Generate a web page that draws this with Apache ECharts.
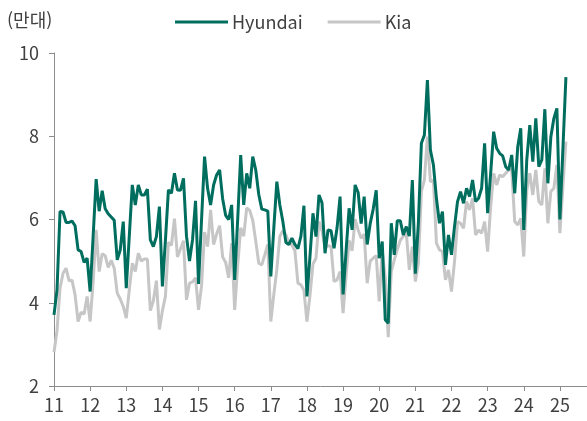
<!DOCTYPE html>
<html lang="ko">
<head>
<meta charset="utf-8">
<title>Hyundai / Kia</title>
<script src="https://cdn.jsdelivr.net/npm/echarts@6/dist/echarts.min.js"></script>
<style>
html,body{margin:0;padding:0;background:#fff;}
#main{width:587px;height:421px;}
</style>
</head>
<body>
<div id="main"></div>
<script>
// 연도 라벨 (x축), 월
var years = ['11','12','13','14','15','16','17','18','19','20','21','22','23','24','25'];
var months = ['01','02','03','04','05','06','07','08','09','10','11','12'];
var monthCount = 178; // 11.01 ~ 25.10 (축 길이)

// 월별 판매 (만대), 11.01 ~ 25.03
var hyundai = [
  3.71,4.31,6.19,6.18,5.93,5.93,5.96,5.85,5.27,5.23,4.97,5.07,
  4.27,5.6,6.97,6.2,6.69,6.26,6.14,6.06,5.98,5.03,5.27,5.95,
  4.35,5.6,6.83,6.35,6.83,6.59,6.59,6.73,5.51,5.35,5.59,6.31,
  4.39,5.5,6.71,6.63,7.11,6.71,6.7,6.99,5.6,5.0,5.51,6.45,
  4.45,6.0,7.51,6.75,6.35,6.83,7.07,7.19,6.5,6.1,6.0,6.35,
  4.55,6.0,7.55,6.35,7.11,6.75,7.51,7.19,6.6,6.25,6.23,6.2,
  4.63,5.8,6.91,6.35,5.95,5.45,5.4,5.55,5.4,5.3,5.6,6.33,
  4.15,5.11,6.15,5.59,6.59,6.4,5.19,5.75,5.73,5.31,5.8,6.55,
  4.2,5.25,6.27,5.75,6.83,6.65,5.9,6.55,5.4,5.9,6.25,6.7,
  5.07,5.47,3.59,3.51,5.91,5.15,5.97,5.97,5.63,5.83,5.6,6.95,
  4.7,5.91,7.83,8.03,9.35,7.67,7.31,6.51,5.91,6.19,4.91,5.63,
  5.15,5.83,6.43,6.67,6.39,6.75,6.55,6.95,6.43,6.51,6.75,7.83,
  6.15,7.1,8.11,7.71,7.59,7.53,7.27,7.19,7.55,6.63,7.75,8.19,
  5.75,7.43,8.27,7.39,8.43,7.27,7.43,8.65,6.87,7.99,8.43,8.67,
  6.0,7.7,9.42
];
var kia = [
  2.81,3.33,4.35,4.71,4.83,4.53,4.54,4.19,3.55,3.77,3.73,4.15,
  3.55,4.5,5.75,4.75,5.18,5.13,4.85,5.02,4.83,4.23,4.09,3.91,
  3.63,4.31,4.95,4.75,5.19,5.0,5.05,5.05,3.81,4.05,4.53,3.36,
  3.81,4.15,5.45,5.38,6.02,5.1,5.29,5.49,4.07,4.47,4.5,4.6,
  3.83,4.41,5.7,5.35,6.23,5.4,5.65,5.85,5.1,4.97,4.6,5.43,
  3.83,4.9,5.8,5.6,6.28,6.22,5.98,5.48,4.95,4.91,5.15,5.4,
  3.55,4.2,4.8,5.6,5.73,5.63,5.45,5.39,5.25,4.47,4.43,4.3,
  3.55,4.17,4.93,5.07,5.95,5.73,5.33,5.37,5.35,4.51,4.55,4.75,
  3.75,4.65,5.5,5.25,6.01,5.75,5.55,5.65,4.47,5.0,5.07,5.13,
  4.03,5.25,4.6,3.17,4.75,5.03,5.28,5.5,5.6,5.67,4.79,5.35,
  4.51,4.95,6.67,6.95,7.99,6.91,6.95,5.43,5.27,5.23,4.55,4.79,
  4.27,4.99,5.95,5.91,5.79,6.43,6.23,6.51,5.63,5.75,5.67,5.95,
  5.23,6.3,7.11,6.83,7.07,7.03,7.11,7.19,7.19,5.95,5.87,6.03,
  5.11,6.71,7.11,6.59,7.19,6.43,6.35,7.23,5.91,6.67,6.75,7.31,
  5.67,6.8,7.87
];

var categories = [];
years.forEach(function(y){
  months.forEach(function(m){ categories.push(y + '.' + m); });
});
categories = categories.slice(0, monthCount);

var font = '"Noto Sans CJK KR", "Noto Sans", sans-serif';
var txt = '#404040';
var axisCol = '#8c8c8c';

var chart = echarts.init(document.getElementById('main'));
chart.setOption({
  animation: false,
  textStyle: {fontFamily: font},
  title: {
    text: '(만대)', left: 7, top: 11, padding: 0,
    textStyle: {fontSize: 18, fontWeight: 'normal', color: txt, fontFamily: font}
  },
  legend: {
    data: ['Hyundai', 'Kia'],
    left: 175, top: 13, padding: 0,
    icon: 'rect', itemWidth: 53, itemHeight: 3, itemGap: 25,
    textStyle: {fontSize: 18, color: txt, fontFamily: font, padding: [0, 0, 0, -1]}
  },
  grid: {left: 54, right: 0, top: 53, bottom: 35},
  xAxis: {
    type: 'category',
    data: categories,
    boundaryGap: false,
    axisLine: {lineStyle: {color: axisCol, width: 1}},
    axisTick: {interval: 11, length: 5, lineStyle: {color: axisCol}},
    axisLabel: {
      interval: 11, margin: 10, fontSize: 18, color: txt, fontFamily: font,
      formatter: function(v){ return v.split('.')[0]; }
    },
    splitLine: {show: false}
  },
  yAxis: {
    type: 'value', min: 2, max: 10, interval: 2,
    axisLine: {show: true, lineStyle: {color: axisCol, width: 1}},
    axisTick: {show: true, length: 5, lineStyle: {color: axisCol}},
    axisLabel: {margin: 15, fontSize: 18, color: txt, fontFamily: font},
    splitLine: {show: false}
  },
  series: [
    {
      name: 'Hyundai', type: 'line', data: hyundai, z: 3,
      symbol: 'none', smooth: false,
      lineStyle: {color: '#006e5f', width: 3},
      itemStyle: {color: '#006e5f'}
    },
    {
      name: 'Kia', type: 'line', data: kia, z: 2,
      symbol: 'none', smooth: false,
      lineStyle: {color: '#c6c6c6', width: 3},
      itemStyle: {color: '#c6c6c6'}
    }
  ]
});
</script>
</body>
</html>
